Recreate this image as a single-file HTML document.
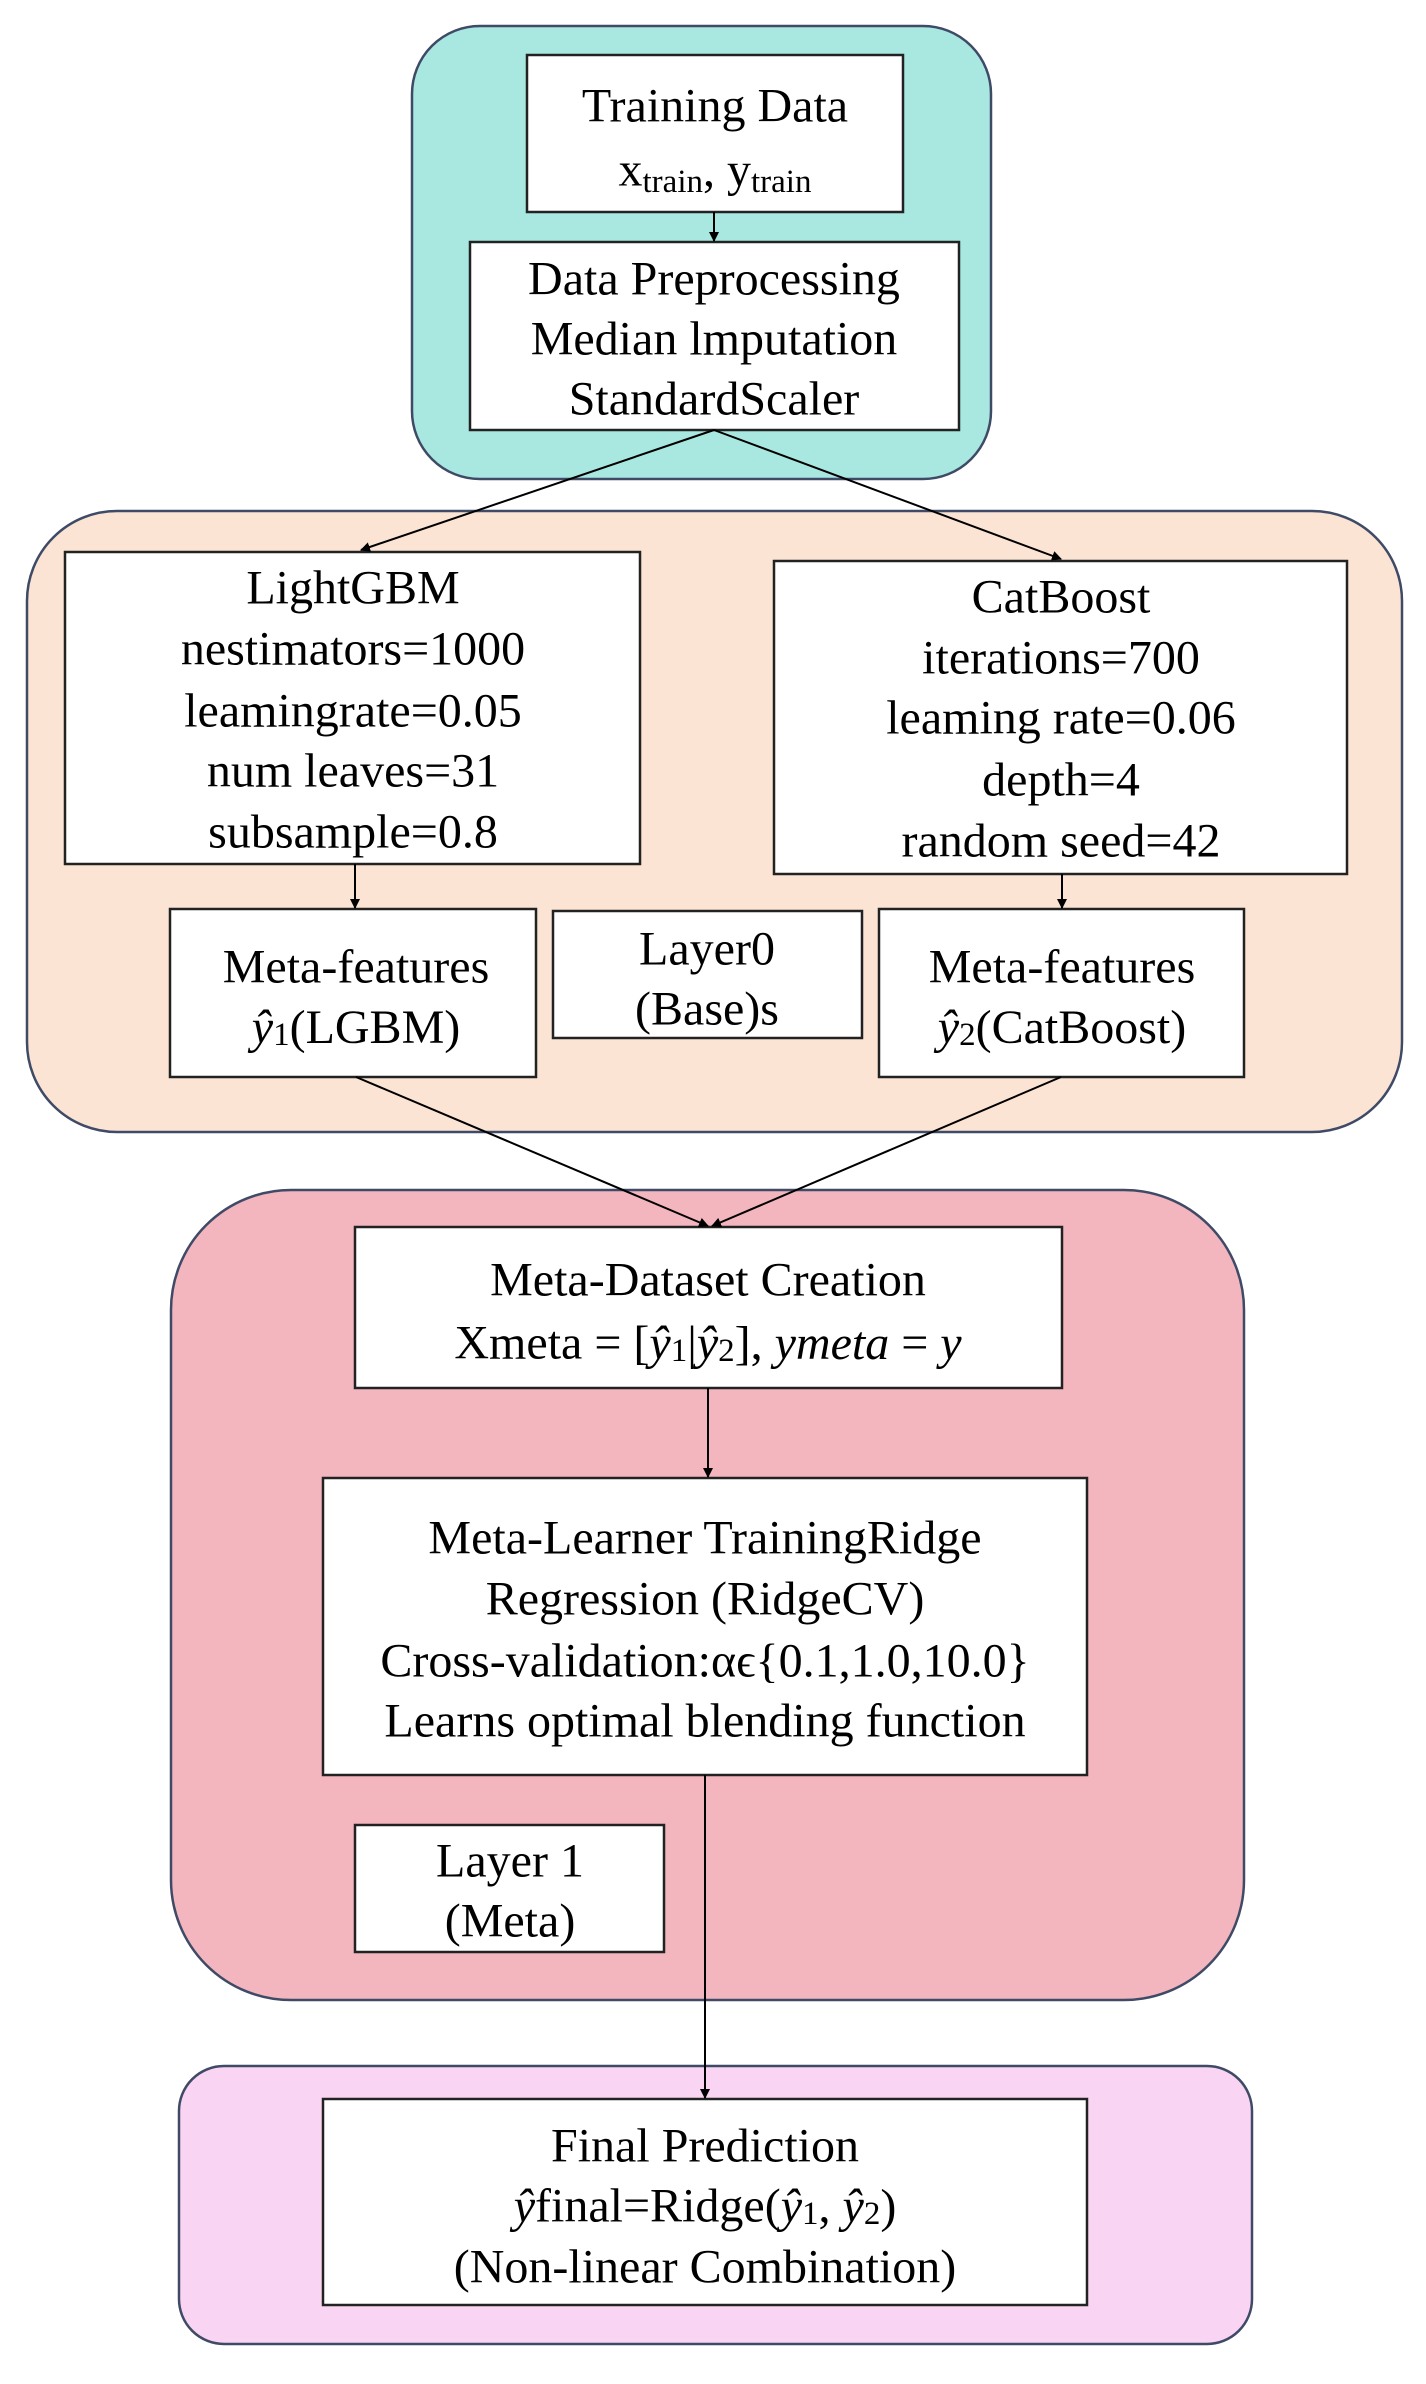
<!DOCTYPE html>
<html><head><meta charset="utf-8"><style>
html,body{margin:0;padding:0;background:#fff;}
svg text{font-family:"Liberation Serif","DejaVu Serif",serif;font-size:48px;fill:#000;}
</style></head><body>
<svg width="1426" height="2379" viewBox="0 0 1426 2379" xmlns="http://www.w3.org/2000/svg">
<defs><marker id="a" markerWidth="10" markerHeight="10" refX="9" refY="5" orient="auto" markerUnits="userSpaceOnUse"><path d="M0,0 L10,5 L0,10 z" fill="#000"/></marker></defs>
<g stroke="#3f4a66" stroke-width="2.5">
<rect x="412" y="26" width="579" height="453" rx="68" fill="#a8e8e1"/>
<rect x="27" y="511" width="1375" height="621" rx="90" fill="#fbe4d4"/>
<rect x="171" y="1190" width="1073" height="810" rx="120" fill="#f3b5be"/>
<rect x="179" y="2066" width="1073" height="278" rx="45" fill="#f9d4f3"/>
</g>
<g fill="#fff" stroke="#222" stroke-width="2.5">
<rect x="527" y="55" width="376" height="157"/>
<rect x="470" y="242" width="489" height="188"/>
<rect x="65" y="552" width="575" height="312"/>
<rect x="774" y="561" width="573" height="313"/>
<rect x="170" y="909" width="366" height="168"/>
<rect x="553" y="911" width="309" height="127"/>
<rect x="879" y="909" width="365" height="168"/>
<rect x="355" y="1227" width="707" height="161"/>
<rect x="323" y="1478" width="764" height="297"/>
<rect x="355" y="1825" width="309" height="127"/>
<rect x="323" y="2099" width="764" height="206"/>
</g>
<g stroke="#000" stroke-width="2" fill="none" marker-end="url(#a)">
<line x1="714" y1="212" x2="714" y2="241"/>
<line x1="714" y1="430" x2="361" y2="550"/>
<line x1="714" y1="430" x2="1061" y2="559"/>
<line x1="355" y1="864" x2="355" y2="908"/>
<line x1="1062" y1="874" x2="1062" y2="908"/>
<line x1="356" y1="1077" x2="708" y2="1226"/>
<line x1="1061" y1="1077" x2="712" y2="1226"/>
<line x1="708" y1="1388" x2="708" y2="1477"/>
<line x1="705" y1="1775" x2="705" y2="2098"/>
</g>
<g text-anchor="middle" dominant-baseline="central">
<text x="715" y="106">Training Data</text>
<text x="715" y="170">x<tspan font-size="33" dy="12">train</tspan><tspan dy="-12">, y</tspan><tspan font-size="33" dy="12">train</tspan></text>
<text x="714" y="279">Data Preprocessing</text>
<text x="714" y="339">Median lmputation</text>
<text x="714" y="399">StandardScaler</text>
<text x="353" y="588">LightGBM</text>
<text x="353" y="649">nestimators=1000</text>
<text x="353" y="711">leamingrate=0.05</text>
<text x="353" y="771">num leaves=31</text>
<text x="353" y="832">subsample=0.8</text>
<text x="1061" y="597">CatBoost</text>
<text x="1061" y="658">iterations=700</text>
<text x="1061" y="718">leaming rate=0.06</text>
<text x="1061" y="780">depth=4</text>
<text x="1061" y="841">random seed=42</text>
<text x="356" y="967">Meta-features</text>
<text x="356" y="1027"><tspan font-style="italic">ŷ</tspan><tspan font-size="33" dy="8">1</tspan><tspan dy="-8">(LGBM)</tspan></text>
<text x="707" y="949">Layer0</text>
<text x="707" y="1009">(Base)s</text>
<text x="1062" y="967">Meta-features</text>
<text x="1062" y="1027"><tspan font-style="italic">ŷ</tspan><tspan font-size="33" dy="8">2</tspan><tspan dy="-8">(CatBoost)</tspan></text>
<text x="708" y="1280">Meta-Dataset Creation</text>
<text x="708" y="1343">Xmeta = [<tspan font-style="italic">ŷ</tspan><tspan font-size="33" dy="8">1</tspan><tspan dy="-8">|</tspan><tspan font-style="italic">ŷ</tspan><tspan font-size="33" dy="8">2</tspan><tspan dy="-8">], </tspan><tspan font-style="italic">ymeta</tspan> = <tspan font-style="italic">y</tspan></text>
<text x="705" y="1538">Meta-Learner TrainingRidge</text>
<text x="705" y="1599">Regression (RidgeCV)</text>
<text x="705" y="1661">Cross-validation:αϵ{0.1,1.0,10.0}</text>
<text x="705" y="1721">Learns optimal blending function</text>
<text x="510" y="1861">Layer 1</text>
<text x="510" y="1921">(Meta)</text>
<text x="705" y="2146">Final Prediction</text>
<text x="705" y="2206"><tspan font-style="italic">ŷ</tspan>final=Ridge(<tspan font-style="italic">ŷ</tspan><tspan font-size="33" dy="8">1</tspan><tspan dy="-8">, </tspan><tspan font-style="italic">ŷ</tspan><tspan font-size="33" dy="8">2</tspan><tspan dy="-8">)</tspan></text>
<text x="705" y="2267">(Non-linear Combination)</text>
</g>
</svg>
</body></html>
